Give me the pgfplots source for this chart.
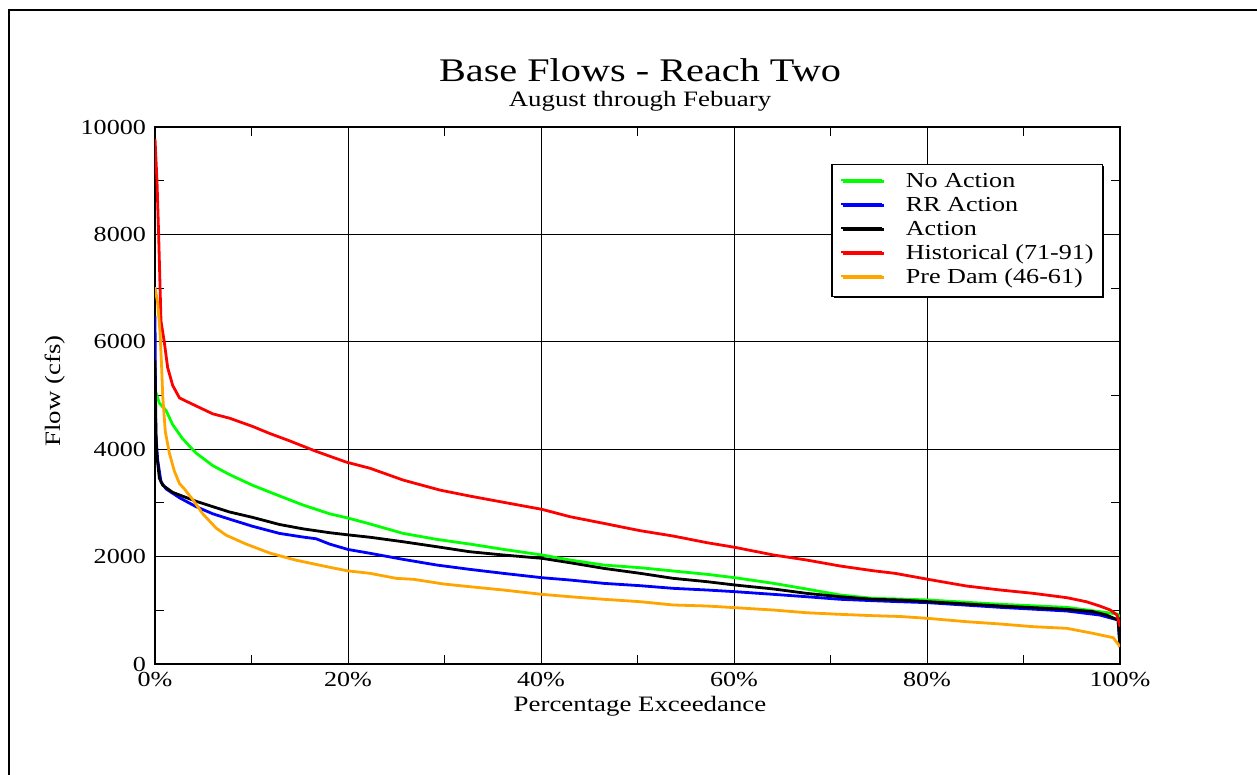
\documentclass[border=0pt]{standalone}
\usepackage{fontspec}
\setmainfont[FakeStretch=1.22]{Liberation Serif}
\usepackage{pgfplots}
\pgfplotsset{compat=1.18}
\usetikzlibrary{shadows}
\definecolor{cgreen}{RGB}{0,255,0}
\definecolor{corange}{RGB}{255,165,0}
\newcommand{\lbl}{\fontsize{10.7}{12}\selectfont}
\begin{document}
\begin{tikzpicture}[x=0.5pt,y=-0.5pt]
\path[use as bounding box] (0,0) rectangle (1257,775);
\draw[line width=1.2pt] (9,775) -- (9,10) -- (1257,10);
\begin{axis}[
    at={(77.5pt,-332pt)}, anchor=south west,
    width=482.5pt, height=268.5pt, scale only axis,
    xmin=0, xmax=100, ymin=0, ymax=10000,
    xtick={0,20,...,100}, minor xtick={10,30,...,90},
    ytick={0,2000,...,10000}, minor ytick={1000,3000,...,9000},
    xticklabel={\pgfmathprintnumber{\tick}\%},
    scaled ticks=false,
    /pgf/number format/assume math mode=true,
    /pgf/number format/set thousands separator={},
    tick label style={font=\lbl},
    yticklabel style={xshift=-1pt},
    xticklabel style={yshift=-0.5pt},
    grid=major, major grid style={black, line width=0.5pt},
    axis line style={line width=0.6pt},
    tick style={black, line width=0.5pt},
    tick align=inside, major tick length=5pt, minor tick length=4.5pt,
    legend style={at={(0.9824,0.931)}, anchor=north east, draw=black,
        line width=0.6pt, font=\lbl, cells={anchor=west},
        inner xsep=4pt, inner ysep=3pt, row sep=0pt, column sep=11pt,
        nodes={inner sep=0.4pt, text height=8pt, text depth=3.2pt},
        drop shadow={shadow xshift=0.8pt, shadow yshift=-0.8pt, opacity=1, fill=black}},
    legend image code/.code={\draw[#1, line width=1pt] (0pt,1.2pt) -- (20.5pt,1.2pt);},
    every axis plot/.append style={line width=1.4pt},
]
\addplot[cgreen] coordinates {
(0,5150) (0.1,5056) (0.45,4857) (1.14,4724) (1.83,4458) (2.87,4193) (4.26,3927)
(5.99,3694) (7.72,3528) (10.1,3329) (12.9,3130) (15.3,2963) (18.1,2797) (20,2718)
(22.3,2607) (25.7,2433) (29.2,2321) (32.6,2234) (36.1,2135) (40.1,2030) (43,1937)
(46.5,1843) (50.3,1793) (53.7,1732) (57.2,1670) (60.1,1607) (64.1,1502) (67.5,1397)
(71,1285) (74.4,1223) (77.2,1210) (80.1,1192) (87.6,1112) (94.5,1055) (97.9,975)
(99.7,931) (100,881)
};
\addlegendentry{No Action}
\addplot[blue] coordinates {
(0,6485) (0.07,4326) (0.28,3794) (0.62,3395) (1.14,3262) (2.53,3096) (4.26,2930)
(5.99,2797) (7.72,2698) (10.1,2565) (12.9,2432) (15.3,2365) (16.7,2332) (18.1,2233)
(20,2133) (22.3,2061) (25.7,1949) (29.2,1843) (32.6,1763) (36.1,1688) (40.1,1607)
(43,1564) (46.5,1502) (50.3,1458) (53.7,1409) (57.2,1378) (60.1,1347) (64.1,1297)
(67.5,1253) (71,1205) (74.4,1179) (77.2,1160) (80.1,1142) (87.6,1055) (94.5,987)
(97.9,912) (99.8,819) (100,310)
};
\addlegendentry{RR Action}
\addplot[black] coordinates {
(0,5654) (0.1,4326) (0.17,3927) (0.45,3462) (0.8,3329) (1.83,3196) (4.26,3030)
(5.99,2930) (7.72,2831) (10.1,2731) (12.9,2598) (15.3,2518) (18.1,2445) (20,2405)
(22.3,2360) (25.7,2277) (29.2,2184) (32.6,2091) (36.1,2030) (40.1,1968) (43,1886)
(46.5,1781) (50.3,1688) (53.7,1595) (57.2,1533) (60.1,1471) (64.1,1397) (67.5,1316)
(71,1253) (74.4,1205) (77.2,1192) (80.1,1161) (87.6,1080) (94.5,1018) (97.2,975)
(98.6,912) (99.8,819) (100,329)
};
\addlegendentry{Action}
\addplot[red] coordinates {
(0,9780) (0.21,8977) (0.38,7980) (0.62,6385) (0.97,5987) (1.31,5522) (1.83,5189)
(2.53,4957) (3.04,4910) (5.99,4658) (7.72,4578) (10.1,4425) (11.9,4292) (13.9,4159)
(16.7,3960) (19.8,3761) (22.3,3644) (25.7,3426) (29.5,3240) (32.6,3128) (35.4,3035)
(40.1,2880) (43,2743) (46.5,2619) (50.3,2482) (53.7,2383) (57.2,2259) (60.1,2172)
(64.1,2030) (67.5,1937) (71,1825) (74.4,1737) (76.7,1688) (80.1,1577) (84.1,1452)
(87.6,1378) (91,1316) (94.5,1235) (96.5,1160) (97.9,1080) (99,1005) (99.7,912) (100,695)
};
\addlegendentry{Historical (71-91)}
\addplot[corange] coordinates {
(0,7017) (0.28,6718) (0.52,6186) (0.69,5522) (0.8,4990) (1.07,4326) (1.49,3927)
(2,3595) (2.53,3362) (3.04,3262) (3.9,3063) (4.95,2797) (6.33,2532) (7.37,2399)
(9.45,2233) (11.9,2066) (14.6,1934) (18.1,1801) (20,1734) (22.3,1688) (25,1595)
(26.8,1577) (29.9,1490) (32.6,1440) (36.1,1378) (40.1,1297) (43,1253) (46.5,1205)
(50.3,1160) (53.7,1099) (57.2,1080) (60.1,1049) (64.1,1005) (67.5,955) (71,925)
(74.4,900) (77.2,885) (80.1,850) (84.1,788) (87.6,745) (91,695) (94.5,664)
(97.2,571) (99.3,490) (100,323)
};
\addlegendentry{Pre Dam (46-61)}
\end{axis}
\node[anchor=base, font=\fontsize{16.5}{18}\selectfont] at (640,82) {Base Flows - Reach Two};
\node[anchor=base, font=\fontsize{11}{13}\selectfont] at (640,107) {August through Febuary};
\node[anchor=base, font=\fontsize{11}{13}\selectfont] at (640,711) {Percentage Exceedance};
\node[rotate=90, font=\fontsize{11}{13}\selectfont] at (55,391) {Flow (cfs)};
\end{tikzpicture}
\end{document}
